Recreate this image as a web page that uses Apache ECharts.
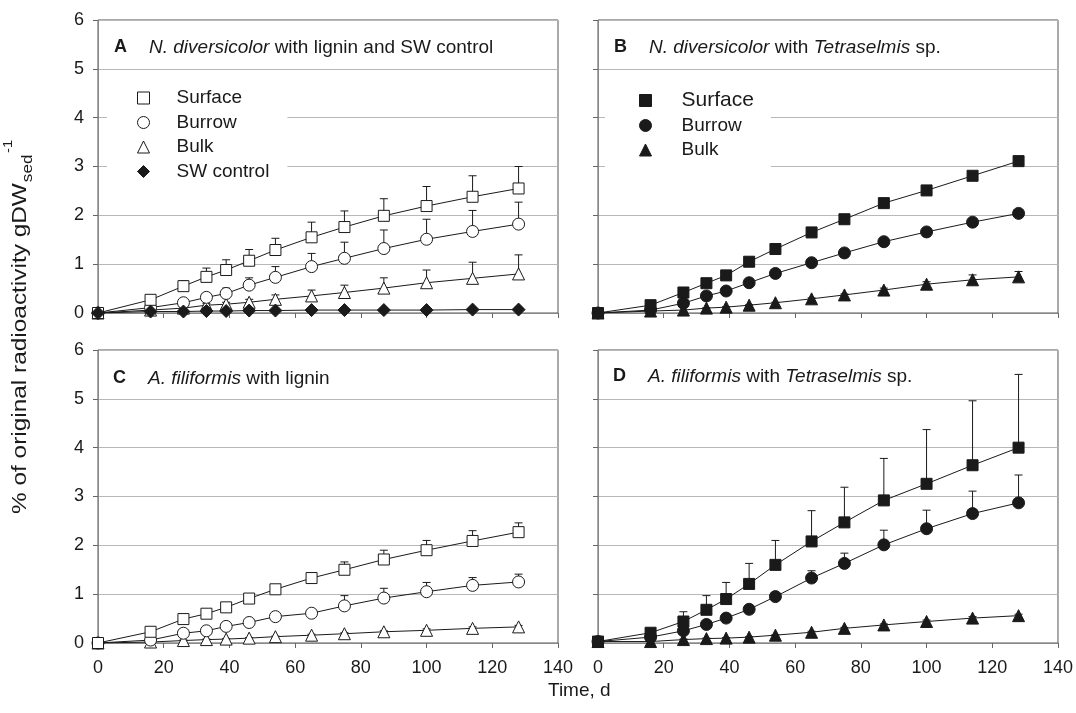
<!DOCTYPE html>
<html>
<head>
<meta charset="utf-8">
<script src="https://cdn.jsdelivr.net/npm/echarts@6/dist/echarts.min.js"></script>
<style>
  html, body { margin: 0; padding: 0; background: #fff; }
  #chart { width: 1076px; height: 713px; }
</style>
</head>
<body>
<div id="chart"></div>
<script>
// sampling days (shared by every panel)
const days = [0, 16, 26, 33, 39, 46, 54, 65, 75, 87, 100, 114, 128]
const xTicks = [0, 20, 40, 60, 80, 100, 120, 140]
const yTicks = [0, 1, 2, 3, 4, 5, 6]

// A: N. diversicolor with lignin and SW control
const aSurface    = [0, 0.27, 0.55, 0.74, 0.88, 1.07, 1.29, 1.55, 1.76, 1.99, 2.19, 2.38, 2.55]
const aSurfaceErr = [0, 0.03, 0.11, 0.18, 0.21, 0.23, 0.24, 0.31, 0.33, 0.35, 0.40, 0.43, 0.45]
const aBurrow     = [0, 0.11, 0.21, 0.32, 0.40, 0.57, 0.73, 0.95, 1.12, 1.32, 1.51, 1.67, 1.82]
const aBurrowErr  = [0, 0.02, 0.05, 0.06, 0.11, 0.15, 0.22, 0.27, 0.33, 0.38, 0.41, 0.43, 0.45]
const aBulk       = [0, 0.06, 0.10, 0.16, 0.18, 0.22, 0.28, 0.35, 0.42, 0.51, 0.62, 0.71, 0.80]
const aBulkErr    = [0, 0.01, 0.02, 0.03, 0.04, 0.06, 0.09, 0.12, 0.15, 0.21, 0.26, 0.33, 0.39]
const aControl    = [0, 0.03, 0.03, 0.04, 0.04, 0.05, 0.05, 0.06, 0.06, 0.06, 0.06, 0.07, 0.07]

// B: N. diversicolor with Tetraselmis sp.
const bSurface    = [0, 0.16, 0.42, 0.61, 0.77, 1.05, 1.31, 1.65, 1.92, 2.25, 2.51, 2.81, 3.11]
const bSurfaceErr = [0, 0, 0.01, 0.01, 0.01, 0.02, 0.02, 0.02, 0.02, 0.02, 0.03, 0.03, 0.03]
const bBurrow     = [0, 0.06, 0.20, 0.35, 0.45, 0.62, 0.81, 1.03, 1.23, 1.46, 1.66, 1.86, 2.04]
const bBurrowErr  = [0, 0, 0.01, 0.01, 0.02, 0.02, 0.02, 0.03, 0.03, 0.05, 0.05, 0.04, 0.05]
const bBulk       = [0, 0.04, 0.06, 0.10, 0.12, 0.16, 0.21, 0.29, 0.37, 0.47, 0.59, 0.68, 0.74]
const bBulkErr    = [0, 0, 0, 0.01, 0.01, 0.01, 0.01, 0.02, 0.02, 0.04, 0.05, 0.10, 0.11]

// C: A. filiformis with lignin
const cSurface    = [0, 0.23, 0.49, 0.60, 0.73, 0.91, 1.10, 1.33, 1.50, 1.71, 1.90, 2.09, 2.27]
const cSurfaceErr = [0, 0.02, 0.03, 0.03, 0.04, 0.05, 0.06, 0.10, 0.16, 0.19, 0.20, 0.21, 0.19]
const cBurrow     = [0, 0.06, 0.20, 0.25, 0.34, 0.42, 0.54, 0.61, 0.76, 0.92, 1.05, 1.18, 1.25]
const cBurrowErr  = [0, 0.01, 0.02, 0.03, 0.03, 0.04, 0.05, 0.05, 0.21, 0.20, 0.19, 0.16, 0.16]
const cBulk       = [0, 0.02, 0.05, 0.07, 0.08, 0.10, 0.13, 0.16, 0.19, 0.23, 0.26, 0.30, 0.33]
const cBulkErr    = [0, 0, 0.01, 0.01, 0.01, 0.01, 0.01, 0.02, 0.02, 0.02, 0.03, 0.03, 0.03]

// D: A. filiformis with Tetraselmis sp.
const dSurface    = [0.03, 0.21, 0.44, 0.68, 0.90, 1.21, 1.60, 2.08, 2.47, 2.92, 3.26, 3.64, 4.00]
const dSurfaceErr = [0, 0.03, 0.20, 0.29, 0.34, 0.42, 0.50, 0.63, 0.72, 0.86, 1.11, 1.32, 1.50]
const dBurrow     = [0.03, 0.12, 0.25, 0.38, 0.51, 0.69, 0.95, 1.33, 1.63, 2.01, 2.34, 2.65, 2.87]
const dBurrowErr  = [0, 0.02, 0.03, 0.04, 0.05, 0.05, 0.05, 0.15, 0.21, 0.30, 0.38, 0.46, 0.57]
const dBulk       = [0.03, 0.03, 0.07, 0.09, 0.10, 0.12, 0.16, 0.22, 0.30, 0.37, 0.44, 0.51, 0.56]
const dBulkErr    = [0, 0, 0.01, 0.01, 0.01, 0.01, 0.01, 0.02, 0.02, 0.02, 0.03, 0.03, 0.03]

const INK = '#1a1a1a'
const FONT = 'Liberation Sans, Arial, sans-serif'

const chart = echarts.init(document.getElementById('chart'))

const grids = [
  { left: 98, top: 20, width: 460, height: 293 },
  { left: 598, top: 20, width: 460, height: 293 },
  { left: 98, top: 350, width: 460, height: 293 },
  { left: 598, top: 350, width: 460, height: 293 },
].map(g => ({ ...g, show: true, borderColor: '#555', borderWidth: 1 }))

const xAxes = grids.map((g, i) => ({
  type: 'value', gridIndex: i, min: xTicks[0], max: xTicks[xTicks.length - 1], interval: 20,
  axisLine: { lineStyle: { color: '#888' } },
  axisTick: { length: 5, lineStyle: { color: '#666' } },
  splitLine: { show: false },
  axisLabel: { show: i >= 2, margin: 16, fontSize: 18, color: INK, fontFamily: FONT },
}))

const yAxes = grids.map((g, i) => ({
  type: 'value', gridIndex: i, min: yTicks[0], max: yTicks[yTicks.length - 1], interval: 1,
  axisLine: { show: true, lineStyle: { color: '#888' } },
  axisTick: { show: true, length: 5, lineStyle: { color: '#666' } },
  splitLine: { lineStyle: { color: '#b8b8b8' } },
  axisLabel: { show: i % 2 === 0, margin: 14, fontSize: 18, color: INK, fontFamily: FONT },
}))

const lineSeries = (idx, name, vals, symbol, filled, size) => ({
  type: 'line', name, xAxisIndex: idx, yAxisIndex: idx, z: 3,
  data: days.map((d, i) => [d, vals[i]]),
  symbol, symbolSize: size, showSymbol: true,
  lineStyle: { color: INK, width: 1 },
  itemStyle: { color: filled ? INK : '#fff', borderColor: INK, borderWidth: 1 },
  emphasis: { disabled: true },
})

const errSeries = (idx, vals, errs) => ({
  type: 'custom', xAxisIndex: idx, yAxisIndex: idx, z: 2, silent: true,
  data: days.map((d, i) => [d, vals[i], errs[i]]),
  encode: { x: 0, y: 1 },
  renderItem(params, api) {
    const x = api.value(0), y = api.value(1), e = api.value(2)
    if (!e) return
    const p0 = api.coord([x, y]), p1 = api.coord([x, y + e])
    const st = { stroke: INK, lineWidth: 1 }
    return {
      type: 'group',
      children: [
        { type: 'line', shape: { x1: p0[0], y1: p0[1], x2: p1[0], y2: p1[1] }, style: st },
        { type: 'line', shape: { x1: p1[0] - 4, y1: p1[1], x2: p1[0] + 4, y2: p1[1] }, style: st },
      ],
    }
  },
})

const series = [
  errSeries(0, aSurface, aSurfaceErr), errSeries(0, aBurrow, aBurrowErr), errSeries(0, aBulk, aBulkErr),
  lineSeries(0, 'A Bulk', aBulk, 'triangle', false, 12),
  lineSeries(0, 'A Burrow', aBurrow, 'circle', false, 12),
  lineSeries(0, 'A Surface', aSurface, 'rect', false, 11),
  lineSeries(0, 'A SW control', aControl, 'diamond', true, 13),

  errSeries(1, bSurface, bSurfaceErr), errSeries(1, bBurrow, bBurrowErr), errSeries(1, bBulk, bBulkErr),
  lineSeries(1, 'B Bulk', bBulk, 'triangle', true, 12),
  lineSeries(1, 'B Burrow', bBurrow, 'circle', true, 12),
  lineSeries(1, 'B Surface', bSurface, 'rect', true, 11),

  errSeries(2, cSurface, cSurfaceErr), errSeries(2, cBurrow, cBurrowErr), errSeries(2, cBulk, cBulkErr),
  lineSeries(2, 'C Bulk', cBulk, 'triangle', false, 12),
  lineSeries(2, 'C Burrow', cBurrow, 'circle', false, 12),
  lineSeries(2, 'C Surface', cSurface, 'rect', false, 11),

  errSeries(3, dSurface, dSurfaceErr), errSeries(3, dBurrow, dBurrowErr), errSeries(3, dBulk, dBulkErr),
  lineSeries(3, 'D Bulk', dBulk, 'triangle', true, 12),
  lineSeries(3, 'D Burrow', dBurrow, 'circle', true, 12),
  lineSeries(3, 'D Surface', dSurface, 'rect', true, 11),
]

const openStyle = { color: '#fff', borderColor: INK, borderWidth: 1 }
const fillStyle = { color: INK, borderColor: INK, borderWidth: 1 }
const legendBase = {
  orient: 'vertical', backgroundColor: '#fff', itemWidth: 12, itemHeight: 12, itemGap: 4.5,
  selectedMode: false, formatter: n => n.slice(2),
  textStyle: { fontSize: 19, lineHeight: 20, color: INK, fontFamily: FONT },
}

const titleRich = {
  b: { fontWeight: 'bold', fontSize: 18, width: 35, color: INK, fontFamily: FONT },
  i: { fontWeight: 'normal', fontStyle: 'italic', fontSize: 19, color: INK, fontFamily: FONT },
  n: { fontWeight: 'normal', fontSize: 19, color: INK, fontFamily: FONT },
}
const panelTitle = (left, top, text) => ({
  left, top, text, textStyle: { fontWeight: 'normal', rich: titleRich },
})

chart.setOption({
  animation: false,
  title: [
    panelTitle(109, 33, '{b|A}{i|N. diversicolor}{n| with lignin and SW control}'),
    panelTitle(609, 33, '{b|B}{i|N. diversicolor}{n| with }{i|Tetraselmis}{n| sp.}'),
    panelTitle(108, 364, '{b|C}{i|A. filiformis}{n| with lignin}'),
    panelTitle(608, 362, '{b|D}{i|A. filiformis}{n| with }{i|Tetraselmis}{n| sp.}'),
  ],
  legend: [
    {
      ...legendBase, left: 107, top: 84, padding: [4, 18, 6, 30],
      textStyle: { ...legendBase.textStyle, padding: [0, 0, 0, 22] },
      data: [
        { name: 'A Surface', icon: 'rect', itemStyle: openStyle },
        { name: 'A Burrow', icon: 'circle', itemStyle: openStyle },
        { name: 'A Bulk', icon: 'triangle', itemStyle: openStyle },
        { name: 'A SW control', icon: 'diamond', itemStyle: fillStyle },
      ],
    },
    {
      ...legendBase, left: 605, top: 86, padding: [4, 17, 8, 34],
      textStyle: { ...legendBase.textStyle, padding: [0, 0, 0, 25] },
      data: [
        { name: 'B Surface', icon: 'rect', itemStyle: fillStyle, textStyle: { fontSize: 21, padding: [0, 0, 0, 25] } },
        { name: 'B Burrow', icon: 'circle', itemStyle: fillStyle },
        { name: 'B Bulk', icon: 'triangle', itemStyle: fillStyle },
      ],
    },
  ],
  grid: grids,
  xAxis: xAxes,
  yAxis: yAxes,
  series,
  graphic: [
    {
      // rotated y-axis title, stretched slightly along its reading direction
      type: 'group', x: 20, y: 514, rotation: Math.PI / 2, scaleX: 1.22,
      children: [
        { type: 'text', x: 0, y: 0, style: { text: '% of original radioactivity gDW', fontSize: 20, fontFamily: FONT, fill: INK, align: 'left', verticalAlign: 'middle' } },
        { type: 'text', x: 272, y: 8, style: { text: 'sed', fontSize: 14, fontFamily: FONT, fill: INK, align: 'left', verticalAlign: 'middle' } },
        { type: 'text', x: 296, y: -11, style: { text: '-1', fontSize: 12, fontFamily: FONT, fill: INK, align: 'left', verticalAlign: 'middle' } },
      ],
    },
    { type: 'text', left: 548, top: 681, style: { text: 'Time, d', fontSize: 19, fontFamily: FONT, fill: INK } },
  ],
})
</script>
</body>
</html>
